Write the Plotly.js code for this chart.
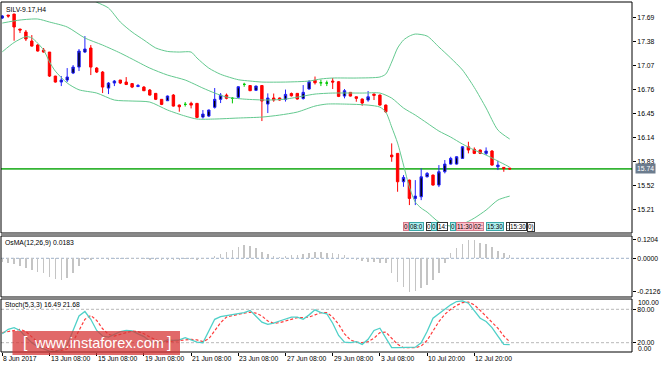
<!DOCTYPE html>
<html><head><meta charset="utf-8">
<script src="https://cdn.plot.ly/plotly-3.0.1.min.js"></script>
<style>html,body{margin:0;padding:0;background:#fff;}#chart{width:664px;height:369px;}</style>
</head><body><div id="chart"></div>
<script>
// ---------------- DATA ----------------
const symbolTitle = 'SILV-9.17,H4';
const osmaTitle = 'OsMA(12,26,9) 0.0183';
const stochTitle = 'Stoch(5,3,3) 16.49 21.68';

const dateBars = [0, 8, 16, 24, 32, 40, 48, 56, 64, 72, 80];
const dateLabels = ['8 Jun 2017','13 Jun 08:00','15 Jun 08:00','19 Jun 08:00','21 Jun 08:00','23 Jun 08:00','27 Jun 08:00','29 Jun 08:00','3 Jul 08:00','10 Jul 20:00','12 Jul 20:00'];

const priceTicks = [17.69, 17.38, 17.07, 16.76, 16.45, 16.14, 15.83, 15.52, 15.21];
const osmaTicks = [0.1204, 0, -0.2126];
const osmaTickText = ['0.1204', '0.0000', '-0.2126'];
const stochTicks = [80, 20];
const stochTickText = ['80.00', '20.00'];

const open = [
 17.686,17.724,17.737,17.544,17.505,17.389,17.337,17.273,17.247,16.937,
 16.860,16.886,16.976,17.053,17.247,17.299,17.040,16.989,16.782,16.847,
 16.886,16.860,16.840,16.802,16.795,16.757,16.714,16.637,16.619,16.692,
 16.563,16.572,16.585,16.585,16.408,16.421,16.534,16.637,16.692,16.650,
 16.663,16.830,16.815,16.753,16.815,16.576,16.654,16.654,16.634,16.712,
 16.714,16.647,16.770,16.882,16.851,16.847,16.873,16.864,16.679,16.727,
 16.670,16.641,16.628,16.705,16.692,16.563,15.918,15.940,15.574,15.595,
 15.359,15.380,15.638,15.660,15.531,15.703,15.802,15.802,15.875,16.025,
 15.992,15.983,15.940,15.970,15.767,15.759,15.750];
const high = [
 17.724,17.724,17.740,17.544,17.531,17.466,17.350,17.299,17.247,16.940,
 16.937,17.040,17.079,17.286,17.453,17.337,17.053,17.002,16.860,16.886,
 16.886,16.924,16.847,16.834,16.808,16.770,16.718,16.640,16.686,16.705,
 16.570,16.602,16.606,16.589,16.499,16.505,16.783,16.718,16.712,16.667,
 16.808,16.851,16.821,16.815,16.821,16.714,16.712,16.660,16.763,16.725,
 16.718,16.821,16.886,16.931,16.892,16.879,16.912,16.873,16.770,16.731,
 16.673,16.647,16.744,16.712,16.699,16.570,16.069,15.944,15.660,15.602,
 15.595,15.746,15.699,15.666,15.789,15.854,15.896,15.905,16.034,16.090,
 16.017,15.989,16.017,15.983,15.845,15.763,15.752];
const low = [
 17.673,17.690,17.393,17.492,17.389,17.318,17.253,17.241,16.925,16.853,
 16.808,16.860,16.963,17.002,17.234,16.950,16.976,16.718,16.705,16.808,
 16.834,16.821,16.782,16.795,16.744,16.686,16.628,16.563,16.615,16.544,
 16.477,16.544,16.520,16.395,16.389,16.408,16.518,16.589,16.637,16.585,
 16.654,16.799,16.744,16.744,16.357,16.460,16.606,16.621,16.608,16.673,
 16.634,16.634,16.763,16.828,16.808,16.808,16.770,16.666,16.650,16.673,
 16.606,16.554,16.606,16.628,16.557,16.460,15.832,15.445,15.509,15.273,
 15.273,15.337,15.630,15.525,15.505,15.682,15.795,15.795,15.869,15.940,
 15.931,15.931,15.918,15.782,15.725,15.703,15.727];
const close = [
 17.712,17.711,17.570,17.531,17.415,17.324,17.260,17.247,16.937,16.860,
 16.886,16.925,17.053,17.260,17.286,17.053,16.989,16.795,16.847,16.873,
 16.847,16.828,16.795,16.815,16.748,16.692,16.637,16.572,16.680,16.550,
 16.541,16.572,16.563,16.404,16.447,16.499,16.637,16.692,16.650,16.650,
 16.799,16.830,16.748,16.808,16.615,16.654,16.628,16.628,16.701,16.683,
 16.641,16.727,16.864,16.851,16.851,16.847,16.860,16.675,16.748,16.679,
 16.650,16.589,16.670,16.688,16.563,16.477,15.896,15.574,15.630,15.359,
 15.389,15.638,15.682,15.531,15.703,15.802,15.875,15.896,16.025,15.983,
 15.940,15.940,15.970,15.789,15.789,15.745,15.740];

// Bollinger bands read at sample bars
const upperBars = [0,4,8,12,14,16,18,20,22,24,26,28,30,32,33,35,37,40,42,44,48,52,54,56,60,64,65,66,67,68,69,70,72,74,76,78,80,82,84,86];
const upperBand = [18.25,18.26,18.20,18.05,17.97,17.89,17.815,17.634,17.505,17.402,17.30,17.255,17.247,17.247,17.17,17.04,16.96,16.89,16.873,16.86,16.86,16.873,16.90,16.912,16.912,16.925,16.963,17.118,17.299,17.402,17.453,17.479,17.453,17.312,17.17,17.015,16.79,16.525,16.241,16.125];
const midBars = [0,3,6,8,11,14,17,20,22,25,28,31,34,36,38,41,45,48,51,53,56,61,64,66,68,70,72,74,76,78,80,82,84,86];
const midBand = [17.621,17.66,17.673,17.634,17.57,17.428,17.337,17.234,17.157,17.04,16.95,16.886,16.782,16.718,16.666,16.64,16.628,16.64,16.679,16.705,16.718,16.718,16.718,16.653,16.525,16.434,16.331,16.228,16.15,16.06,15.983,15.918,15.841,15.763];
const lowerBars = [0,2,4,5,7,8,9,11,13,16,19,22,25,28,31,33,36,40,44,47,50,53,55,58,62,64,65,66,67,68,69,70,71,72,74,76,78,80,82,84,86];
const lowerBand = [17.25,17.37,17.445,17.43,17.273,17.12,17.0,16.847,16.76,16.718,16.628,16.615,16.602,16.499,16.421,16.383,16.383,16.396,16.408,16.434,16.473,16.55,16.576,16.576,16.563,16.537,16.473,16.28,16.073,15.79,15.505,15.312,15.234,15.183,15.054,15.002,15.028,15.105,15.209,15.338,15.389];

const osma = [
 -0.021,-0.032,-0.038,-0.049,-0.064,-0.075,-0.085,-0.096,-0.117,-0.135,
 -0.139,-0.128,-0.096,-0.049,-0.012,-0.008,-0.006,-0.006,-0.008,-0.006,
 -0.004,-0.004,-0.005,-0.006,-0.006,-0.008,-0.010,-0.010,-0.008,-0.008,
 -0.008,-0.006,-0.005,-0.008,-0.005,0.004,0.015,0.028,0.043,0.053,
 0.075,0.085,0.079,0.064,0.043,0.028,0.015,0.011,0.015,0.021,
 0.021,0.028,0.036,0.043,0.043,0.036,0.036,0.028,0.021,0.003,
 -0.011,-0.015,-0.021,-0.021,-0.028,-0.032,-0.092,-0.150,-0.181,-0.2126,
 -0.209,-0.192,-0.171,-0.139,-0.096,-0.032,0.032,0.064,0.092,0.1204,
 0.118,0.100,0.092,0.075,0.049,0.036,0.0183];

const stochMain = [
 36,44,47,42,30,20,13,9,5,4,
 8,16,42,68,76,62,42,32,30,35,
 40,42,41,36,31,23,20,20,25,24,
 25,29,25,21,20,40,62,67,69,71,
 73,74,78,68,57,53,55,59,63,66,
 66,62,70,79,74,72,55,33,21,20,
 22,17,26,42,46,28,11,11,11,11,
 12,20,40,64,72,79,88,94,95,91,
 78,64,58,47,32,17,16.49];
const stochSignal = [
 38,40,42,44,40,31,21,14,9,6,
 6,9,22,42,62,69,60,45,35,32,
 35,39,41,40,36,30,25,21,22,23,
 25,26,26,25,22,27,41,56,66,69,
 71,73,75,73,68,59,55,56,59,63,
 65,65,66,70,74,74,66,53,36,25,
 21,20,22,28,38,39,28,17,11,11,
 11,14,24,41,58,71,80,87,92,93,
 88,78,67,56,46,32,21.68];

// Small period-separator labels near the bottom of the price panel
const sepText = ['0','08:0','0','0','14:','0','11:30','02:','15:30',':','15:30','0)'];
const sepLeftPx = [403,409,426,431,437,450,456,473,486,506,509,527];
const sepKind = ['pink','cyan','white','cyan','white','cyan','pink','pink','cyan','white','white','white'];

// ---------------- LAYOUT HELPERS ----------------
const FONT = 'Liberation Sans, Arial, sans-serif';
const L = 1, R = 632, T = 2, B = 352;
const W = R - L, H = B - T;
const PX = px => (px - L) / W;
const PY = py => (B - py) / H;
const barPx0 = 2.3, barStep = 5.9;
const xRange = [(L - barPx0) / barStep, (R - barPx0) / barStep];

const n = close.length;
const idx = Array.from({length: n}, (_, i) => i);
const normal = idx.filter(i => open[i] !== close[i]);
const doji = idx.filter(i => open[i] === close[i]);
const pick = (arr, ids) => ids.map(i => arr[i]);
const lastPrice = close[n - 1];

const traces = [];
const bandStyle = {color: '#63c98f', width: 1, shape: 'spline', smoothing: 0.7};
traces.push({type: 'scatter', mode: 'lines', x: upperBars, y: upperBand, line: bandStyle, xaxis: 'x', yaxis: 'y', hoverinfo: 'skip'});
traces.push({type: 'scatter', mode: 'lines', x: midBars, y: midBand, line: bandStyle, xaxis: 'x', yaxis: 'y', hoverinfo: 'skip'});
traces.push({type: 'scatter', mode: 'lines', x: lowerBars, y: lowerBand, line: bandStyle, xaxis: 'x', yaxis: 'y', hoverinfo: 'skip'});

traces.push({
  type: 'candlestick', x: normal,
  open: pick(open, normal), high: pick(high, normal), low: pick(low, normal), close: pick(close, normal),
  increasing: {line: {color: '#2323ff', width: 1}, fillcolor: '#000000'},
  decreasing: {line: {color: '#ff0000', width: 1}, fillcolor: '#ff0000'},
  whiskerwidth: 0, xaxis: 'x', yaxis: 'y', hoverinfo: 'skip'
});
traces.push({
  type: 'candlestick', x: doji,
  open: pick(open, doji), high: pick(high, doji), low: pick(low, doji), close: pick(close, doji),
  increasing: {line: {color: '#00c800', width: 1}, fillcolor: '#00c800'},
  decreasing: {line: {color: '#00c800', width: 1}, fillcolor: '#00c800'},
  whiskerwidth: 0, xaxis: 'x', yaxis: 'y', hoverinfo: 'skip'
});

traces.push({type: 'bar', x: idx, y: osma, width: 0.25, marker: {color: '#c4c4c4', line: {width: 0}}, xaxis: 'x', yaxis: 'y2', hoverinfo: 'skip'});

traces.push({type: 'scatter', mode: 'lines', x: idx, y: stochSignal, line: {color: '#ff3b3b', width: 1.2, dash: '3px,2px'}, xaxis: 'x', yaxis: 'y3', hoverinfo: 'skip'});
traces.push({type: 'scatter', mode: 'lines', x: idx, y: stochMain, line: {color: '#4fd0c8', width: 1.3}, xaxis: 'x', yaxis: 'y3', hoverinfo: 'skip'});

const tickFont = {family: FONT, size: 6.8, color: '#000'};
const yCommon = {side: 'right', anchor: 'x', ticks: 'outside', ticklen: 3, tickcolor: '#000', tickwidth: 1,
  tickfont: tickFont, showgrid: false, zeroline: false, showline: false, fixedrange: true};

const shapes = [];
// panel frames
const panels = [[2, 233], [236, 297], [299, 352]];
panels.forEach(p => shapes.push({type: 'rect', xref: 'paper', yref: 'paper', x0: 0, x1: 1, y0: PY(p[1]), y1: PY(p[0]), line: {color: '#000', width: 1}, layer: 'above'}));
// separators
shapes.push({type: 'rect', xref: 'paper', yref: 'paper', x0: 0, x1: 1, y0: PY(235.5), y1: PY(233.5), fillcolor: '#8a8a8a', line: {width: 0}, layer: 'above'});
shapes.push({type: 'rect', xref: 'paper', yref: 'paper', x0: 0, x1: 1, y0: PY(298.7), y1: PY(297.5), fillcolor: '#8a8a8a', line: {width: 0}, layer: 'above'});
// current price line
shapes.push({type: 'line', xref: 'paper', yref: 'y', x0: 0, x1: 1, y0: lastPrice, y1: lastPrice, line: {color: '#35b535', width: 1.6}, layer: 'below'});
// OsMA zero line
shapes.push({type: 'line', xref: 'paper', yref: 'y2', x0: 0, x1: 1, y0: 0, y1: 0, line: {color: '#9eb1c8', width: 1, dash: '3px,2px'}, layer: 'below'});
// stoch levels
stochTicks.forEach(v => shapes.push({type: 'line', xref: 'paper', yref: 'y3', x0: 0, x1: 1, y0: v, y1: v, line: {color: '#b8b8b8', width: 1, dash: '3px,2px'}, layer: 'below'}));
// watermark
shapes.push({type: 'rect', xref: 'paper', yref: 'paper', x0: PX(12.5), x1: PX(180), y0: PY(355), y1: PY(331), fillcolor: 'rgba(214,52,52,0.74)', line: {width: 0}, layer: 'above'});

const annotations = [];
const txt = (text, xp, yp, extra) => Object.assign({text: text, xref: 'paper', yref: 'paper', x: PX(xp), y: PY(yp), xanchor: 'left', yanchor: 'middle', showarrow: false, font: {family: FONT, size: 6.8, color: '#000'}}, extra || {});
annotations.push(txt(symbolTitle, 4, 9));
annotations.push(txt(osmaTitle, 3, 242.5));
annotations.push(txt(stochTitle, 3, 305));
annotations.push(txt('100.00', 636, 302));
annotations.push(txt('0.00', 636, 348.5));
dateBars.forEach((b, i) => annotations.push({text: dateLabels[i], xref: 'x', yref: 'paper', x: b, y: 0, xanchor: 'left', yanchor: 'top', yshift: -1, xshift: -1, showarrow: false, font: {family: FONT, size: 6.8, color: '#000'}}));
annotations.push({text: lastPrice.toFixed(2), xref: 'paper', yref: 'y', x: 1, y: lastPrice, xanchor: 'left', yanchor: 'middle', xshift: 3, showarrow: false, bgcolor: '#6c7c8e', borderpad: 1, font: {family: FONT, size: 6.8, color: '#fff'}});
const sepColors = {pink: ['#ffc0cb', '#d77a8a'], cyan: ['#aff0f0', '#3aa6a6'], white: ['#ffffff', '#333333']};
sepText.forEach((t, i) => annotations.push(txt(t, sepLeftPx[i], 226.5, {bgcolor: sepColors[sepKind[i]][0], bordercolor: sepColors[sepKind[i]][1], borderwidth: 1, borderpad: 0, font: {family: FONT, size: 6.3, color: '#000'}})));
// watermark text
annotations.push(txt('[', 21, 342.5, {font: {family: FONT, size: 16, color: '#fff'}}));
annotations.push(txt('www.instaforex.com', 32, 342.5, {font: {family: FONT, size: 14.5, color: '#fff'}}));
annotations.push(txt(']', 165, 342.5, {font: {family: FONT, size: 16, color: '#fff'}}));

const layout = {
  width: 664, height: 369,
  margin: {l: L, r: 664 - R, t: T, b: 369 - B, pad: 0},
  paper_bgcolor: '#fff', plot_bgcolor: '#fff',
  showlegend: false, boxgap: 0.42, bargap: 0,
  xaxis: {domain: [0, 1], range: xRange, anchor: 'y3', showgrid: false, zeroline: false, showline: false,
    ticks: 'outside', ticklen: 3, tickcolor: '#000', tickvals: dateBars, showticklabels: false,
    rangeslider: {visible: false}, fixedrange: true},
  yaxis: Object.assign({}, yCommon, {domain: [PY(233), PY(2)], range: [14.913, 17.8925], tickvals: priceTicks, ticktext: priceTicks.map(v => v.toFixed(2))}),
  yaxis2: Object.assign({}, yCommon, {domain: [PY(297), PY(236)], range: [-0.2478, 0.1428], tickvals: osmaTicks, ticktext: osmaTickText}),
  yaxis3: Object.assign({}, yCommon, {domain: [PY(352), PY(299)], range: [3.3, 98.5], tickvals: stochTicks, ticktext: stochTickText}),
  shapes: shapes, annotations: annotations
};

Plotly.newPlot('chart', traces, layout, {staticPlot: true, displayModeBar: false});
</script>
</body></html>
